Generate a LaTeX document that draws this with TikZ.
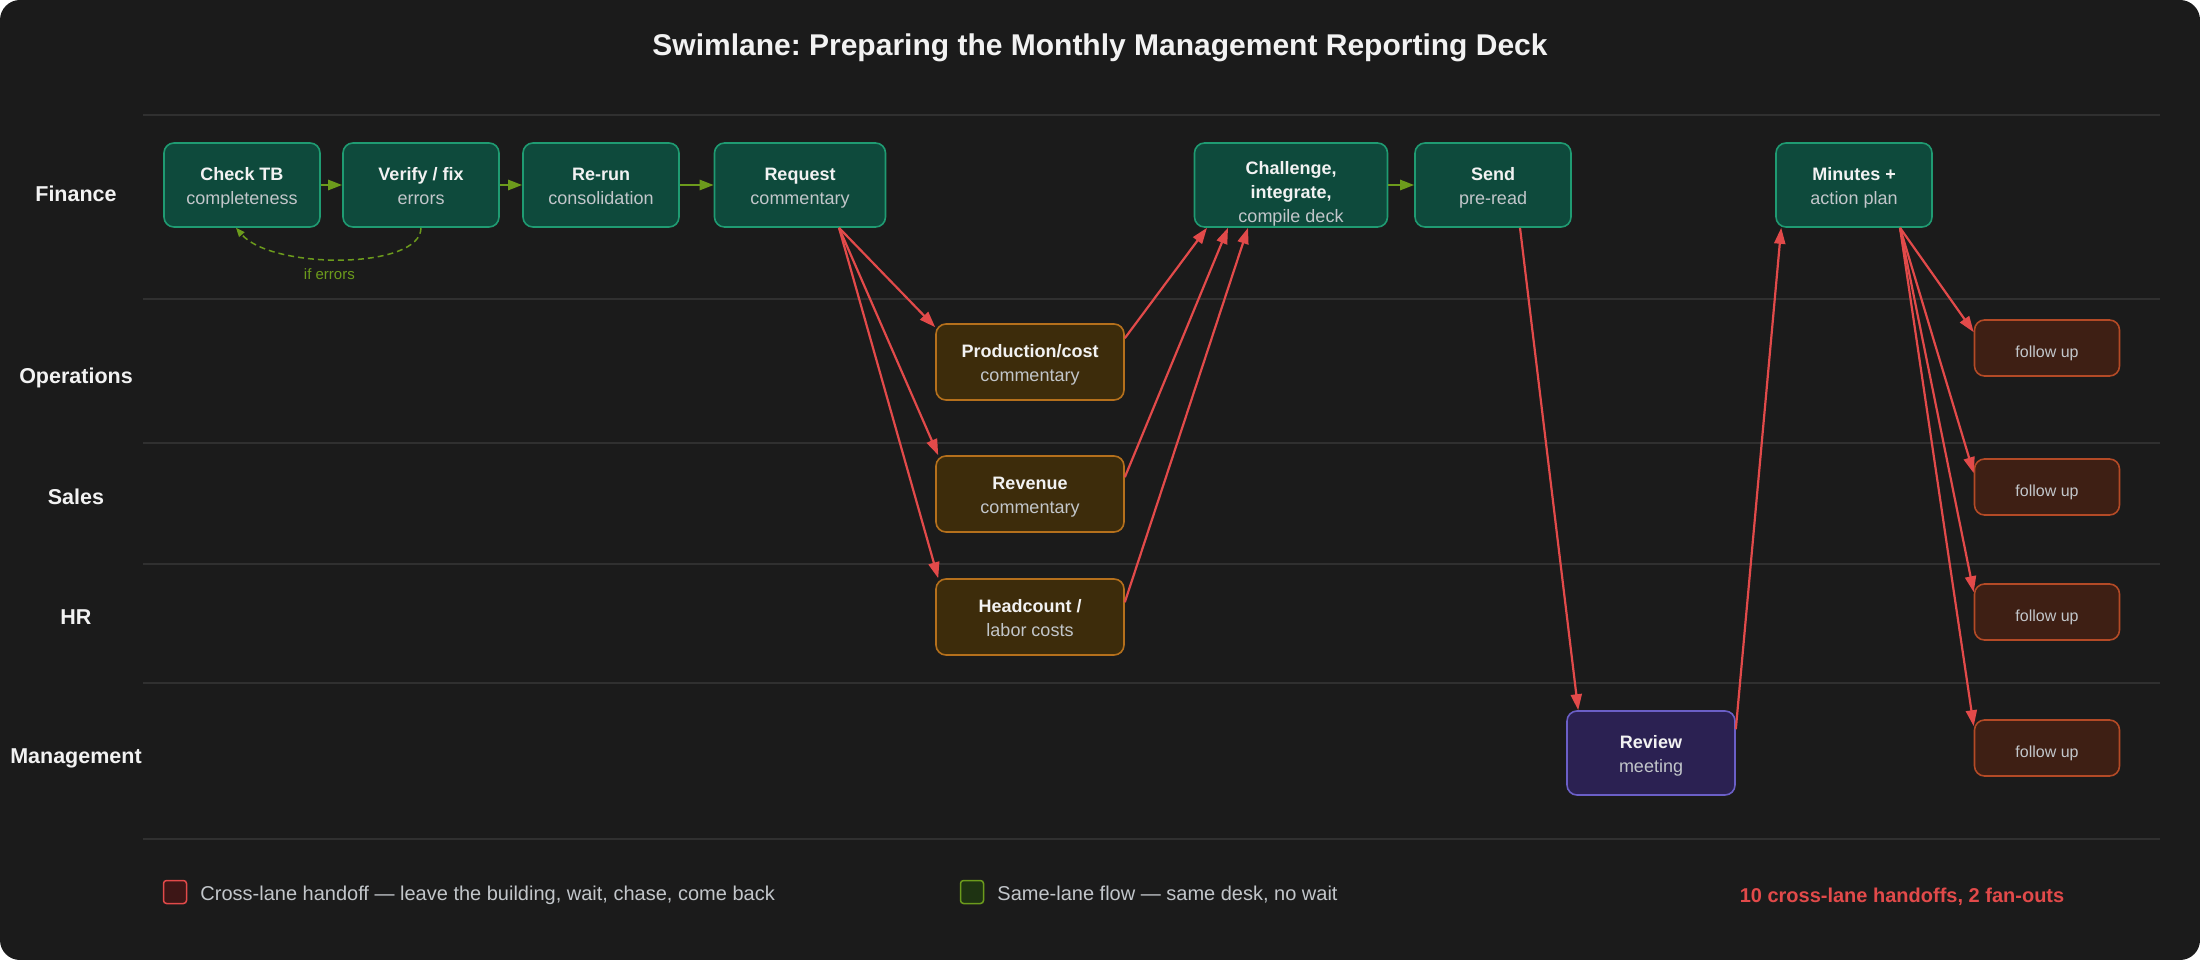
\documentclass[tikz,border=0pt]{standalone}
\usepackage{fontspec}
\setmainfont{Liberation Sans}
\usetikzlibrary{positioning,arrows.meta}
\frenchspacing

\definecolor{bgdark}{HTML}{1B1B1B}
\definecolor{laneline}{HTML}{303030}
\definecolor{txtmain}{HTML}{F2F2F2}
\definecolor{subtxt}{HTML}{C2C6CA}
\definecolor{finfill}{HTML}{0E4A3C}
\definecolor{finline}{HTML}{1F9B72}
\definecolor{deptfill}{HTML}{3D2C0B}
\definecolor{deptline}{HTML}{B5701C}
\definecolor{mgmtfill}{HTML}{2B2152}
\definecolor{mgmtline}{HTML}{6B5FC7}
\definecolor{fupfill}{HTML}{3E1F14}
\definecolor{fupline}{HTML}{B44A26}
\definecolor{handred}{HTML}{E24A4A}
\definecolor{handfill}{HTML}{3D1616}
\definecolor{samegreen}{HTML}{6C9B1C}
\definecolor{samefill}{HTML}{1E3312}

\newcommand{\twoline}[2]{\rule{0pt}{20pt}\textbf{#1}\\{\color{subtxt}#2}\rule[-5pt]{0pt}{5pt}}

\begin{document}
\begin{tikzpicture}[x=1pt, y=-1pt, >={Triangle[length=16pt,width=11pt]},
  box/.style={draw, line width=1.6pt, rounded corners=10pt, align=center,
              inner sep=0pt, text=txtmain, font=\fontsize{18}{24}\selectfont},
  fin/.style={box, fill=finfill, draw=finline, minimum width=156pt, minimum height=84pt},
  dept/.style={box, fill=deptfill, draw=deptline, minimum width=188pt, minimum height=76pt},
  mgmt/.style={box, fill=mgmtfill, draw=mgmtline, minimum width=168pt, minimum height=84pt},
  fup/.style={box, fill=fupfill, draw=fupline, minimum width=145pt, minimum height=56pt,
              text=subtxt, font=\fontsize{16}{20}\selectfont, text height=22pt, text depth=3.5pt},
  lane/.style={text=txtmain, font=\bfseries\fontsize{21.5}{24}\selectfont},
  hand/.style={->, draw=handred, line width=2.2pt},
  same/.style={-{Triangle[length=14pt,width=10pt]}, draw=samegreen, line width=2.5pt},
  legtxt/.style={inner sep=0pt, text=subtxt, font=\fontsize{20}{24}\selectfont},
  keybox/.style={line width=1.5pt, rounded corners=3pt, minimum size=23pt, inner sep=0pt}]

  \useasboundingbox (0,0) rectangle (2200,960);
  \fill[white] (0,0) rectangle (2200,960);
  \fill[bgdark, rounded corners=20pt] (0,0) rectangle (2200,960);

  \node[text=txtmain, font=\bfseries\fontsize{30}{36}\selectfont] (ttl) at (1100,48)
        {Swimlane: Preparing the Monthly Management Reporting Deck};

  \foreach \y in {115,299,443,564,683,839}
    \draw[laneline, line width=1.2pt] (143,\y) -- (2160,\y);

  \node[lane] (lfin) at (76,194) {Finance};
  \node[lane] (lops) at (76,378) {Operations};
  \node[lane] (lsal) at (76,497) {Sales};
  \node[lane] (lhr)  at (76,617) {HR};
  \node[lane] (lmgt) at (76,758) {Management};

  \node[fin] (chk) at (242,185) {\twoline{Check TB}{completeness}};
  \node[fin] (ver) at (421,185) {\twoline{Verify / fix}{errors}};
  \node[fin] (rer) at (601,185) {\twoline{Re-run}{consolidation}};
  \node[fin, minimum width=171pt] (req) at (800,185) {\twoline{Request}{commentary}};
  \node[fin, minimum width=193pt] (chl) at (1291,185)
        {\rule{0pt}{30pt}\textbf{Challenge,}\\\textbf{integrate,}\\{\color{subtxt}compile deck}};
  \node[fin] (snd) at (1493,185) {\twoline{Send}{pre-read}};
  \node[fin] (min) at (1854,185) {\twoline{Minutes +}{action plan}};

  \node[dept] (prd) at (1030,362) {\twoline{Production/cost}{commentary}};
  \node[dept] (rev) at (1030,494) {\twoline{Revenue}{commentary}};
  \node[dept] (hdc) at (1030,617) {\twoline{Headcount /}{labor costs}};
  \node[mgmt] (rvw) at (1651,753) {\twoline{Review}{meeting}};

  \node[fup] (fu1) at (2047,348) {follow up};
  \node[fup] (fu2) at (2047,487) {follow up};
  \node[fup] (fu3) at (2047,612) {follow up};
  \node[fup] (fu4) at (2047,748) {follow up};

  \draw[same] (chk) -- (ver);
  \draw[same] (ver) -- (rer);
  \draw[same] (rer) -- (req);
  \draw[same] (chl) -- (snd);
  \draw[samegreen, line width=1.5pt, dash pattern=on 6pt off 4pt,
        -{Triangle[length=9pt,width=7pt]}]
        (ver.south) .. controls ([yshift=-42pt]ver.south) and ([xshift=30pt,yshift=-42pt]chk.south)
        .. ([xshift=-6pt]chk.south)
        node[pos=0.55, below=6pt, text=samegreen, font=\fontsize{15}{18}\selectfont] (iferr) {if errors};

  \draw[hand] ([xshift=39pt]req.south) -- ([yshift=-4pt]prd.north west);
  \draw[hand] ([xshift=39pt]req.south) -- ([xshift=3pt]rev.north west);
  \draw[hand] ([xshift=39pt]req.south) -- ([xshift=3pt]hdc.north west);
  \draw[hand] ([yshift=-15pt]prd.north east) -- ([xshift=-84pt]chl.south);
  \draw[hand] ([yshift=-22pt]rev.north east) -- ([xshift=-63pt]chl.south);
  \draw[hand] ([yshift=-24pt]hdc.north east) -- ([xshift=-43pt]chl.south);
  \draw[hand] ([xshift=27pt]snd.south) -- ([xshift=12pt]rvw.north west);
  \draw[hand] ([yshift=-19pt]rvw.north east) -- ([xshift=6pt]min.south west);
  \draw[hand] ([xshift=46pt]min.south) -- ([yshift=-13pt]fu1.north west);
  \draw[hand] ([xshift=46pt]min.south) -- ([yshift=-15pt]fu2.north west);
  \draw[hand] ([xshift=46pt]min.south) -- ([yshift=-9pt]fu3.north west);
  \draw[hand] ([xshift=46pt]min.south) -- ([yshift=-7pt]fu4.north west);

  \node[keybox, draw=handred, fill=handfill] (kred) at (175,892) {};
  \node[legtxt, right=13pt of kred, yshift=-3pt] (kredtxt)
        {Cross-lane handoff — leave the building, wait, chase, come back};
  \node[keybox, draw=samegreen, fill=samefill] (kgrn) at (972,892) {};
  \node[legtxt, right=13pt of kgrn, yshift=-3pt] (kgrntxt) {Same-lane flow — same desk, no wait};
  \node[text=handred, font=\bfseries\fontsize{20}{24}\selectfont] (tally) at (1902,897)
        {10 cross-lane handoffs, 2 fan-outs};
\end{tikzpicture}
\end{document}
